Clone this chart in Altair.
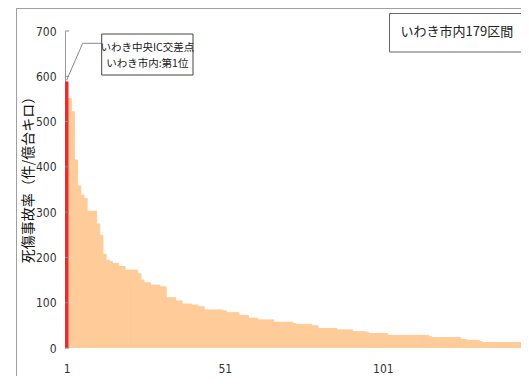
import altair as alt
import pandas as pd

# Death/injury accident rate per section (件/億台キロ), ranked; first 147 of 179 sections
rates = [
    588, 551, 522, 415, 358, 338, 330, 302, 302, 302,
    274, 249, 207, 194, 191, 187, 187, 180, 180, 172,
    172, 172, 172, 164, 150, 144, 144, 139, 139, 139,
    135, 135, 111, 111, 111, 104, 104, 97, 97, 97,
    95, 95, 91, 91, 84, 84, 84, 84, 84, 84,
    82, 78, 78, 78, 78, 72, 72, 72, 66, 66,
    66, 62, 62, 62, 62, 62, 57, 57, 57, 57,
    57, 57, 54, 52, 52, 52, 52, 52, 49, 49,
    43, 43, 43, 43, 43, 43, 40, 40, 40, 40,
    40, 36, 36, 36, 36, 35, 32, 32, 32, 32,
    32, 32, 28, 28, 28, 28, 28, 28, 28, 28,
    28, 28, 28, 28, 28, 25, 23, 23, 23, 23,
    23, 23, 23, 23, 23, 19, 19, 17, 17, 17,
    17, 14, 12, 12, 12, 12, 12, 12, 12, 12,
    12, 12, 12, 12, 12, 12, 12,
]
y_ticks = [0, 100, 200, 300, 400, 500, 600, 700]
x_ticks = [1, 51, 101]
x_visible_max = 144.66  # the view is cropped on the right, as in the original
y_title = "死傷事故率（件/億台キロ）"
anno_lines = ["いわき中央IC交差点", "いわき市内:第1位"]
legend_text = "いわき市内179区間"

NUM_FONT = "Liberation Sans Narrow, DejaVu Sans Condensed, Roboto Condensed, Liberation Sans"
JP_FONT = "Noto Sans CJK JP"
ORANGE = "#FFCC99"
RED = "#EE2B2B"

df = pd.DataFrame({"rank": list(range(1, len(rates) + 1)), "rate": rates})
ticks_df = pd.DataFrame({"tick": y_ticks})
one = pd.DataFrame({"a": [0]})

x_enc = alt.X(
    "lo:Q",
    scale=alt.Scale(domain=[0.5, x_visible_max], nice=False, zero=False),
    axis=alt.Axis(values=x_ticks, domain=False, ticks=False, grid=False,
                  labelPadding=15, labelFont=NUM_FONT, labelFontSize=12,
                  labelColor="#333", labelFlush=False, title=None),
)
y_axis = alt.Axis(values=y_ticks, tickSize=0, grid=False, domainColor="#999",
                  domainWidth=1, labelFont=NUM_FONT, labelFontSize=12,
                  labelColor="#333", labelPadding=9,
                  title=y_title, titleFont=JP_FONT, titleFontSize=14,
                  titleFontWeight="normal", titleColor="#111",
                  titleAngle=270, titleAlign="center", titleBaseline="middle",
                  titleX=-37, titleY=145)
y_enc = alt.Y("rate:Q", scale=alt.Scale(domain=[0, 700], nice=False), axis=y_axis)

base = alt.Chart(df).transform_calculate(
    lo="datum.rank - 0.5", hi="datum.rank + 0.5"
)
orange = base.transform_filter("datum.rank > 1").mark_rect(
    fill=ORANGE, stroke=ORANGE, strokeWidth=1, clip=True
).encode(x=x_enc, x2="hi:Q", y=y_enc, y2=alt.datum(0))
red = base.transform_filter("datum.rank == 1").mark_rect(
    fill=RED, stroke=RED, strokeWidth=0.6, clip=True
).encode(x=x_enc, x2="hi:Q", y=y_enc, y2=alt.datum(0))

tick_rules = alt.Chart(ticks_df).mark_rule(color="#8a8a8a", strokeWidth=1).encode(
    x=alt.value(0), x2=alt.value(4),
    y=alt.Y("tick:Q", scale=alt.Scale(domain=[0, 700], nice=False), axis=y_axis),
)

# outer frame (cropped chart border)
frame_left = alt.Chart(one).mark_rule(color="#a0a0a0", strokeWidth=1).encode(
    x=alt.value(-48.5), y=alt.value(-23), y2=alt.value(345)
)
frame_top = alt.Chart(one).mark_rule(color="#a0a0a0", strokeWidth=1).encode(
    x=alt.value(-48.5), x2=alt.value(470), y=alt.value(-22.5)
)

# annotation callout
lead1 = alt.Chart(one).mark_rule(color="#888", strokeWidth=1).encode(
    x=alt.value(1.7), y=alt.value(49), x2=alt.value(17.7), y2=alt.value(12.3)
)
lead2 = alt.Chart(one).mark_rule(color="#888", strokeWidth=1).encode(
    x=alt.value(17.7), y=alt.value(12.3), x2=alt.value(36.7), y2=alt.value(12.3)
)
anno_box = alt.Chart(one).mark_rect(fill="white", stroke="#444", strokeWidth=1).encode(
    x=alt.value(36.7), x2=alt.value(128), y=alt.value(3), y2=alt.value(44)
)
anno_t1 = alt.Chart(one).mark_text(font=JP_FONT, fontSize=10.5, color="#1a1a1a",
                                   baseline="middle", align="center").encode(
    x=alt.value(82.3), y=alt.value(16.5), text=alt.value(anno_lines[0])
)
anno_t2 = alt.Chart(one).mark_text(font=JP_FONT, fontSize=10.5, color="#1a1a1a",
                                   baseline="middle", align="center").encode(
    x=alt.value(82.3), y=alt.value(33), text=alt.value(anno_lines[1])
)

# label box (top right, cropped by the frame edge)
leg_box = alt.Chart(one).mark_rect(fill="white", stroke="#666", strokeWidth=1).encode(
    x=alt.value(324.5), x2=alt.value(480), y=alt.value(-17.5), y2=alt.value(21)
)
leg_text = alt.Chart(one).mark_text(font=JP_FONT, fontSize=13, color="#222",
                                    baseline="middle", align="left").encode(
    x=alt.value(335.5), y=alt.value(1), text=alt.value(legend_text)
)

chart = alt.layer(
    frame_left, frame_top, orange, red, tick_rules,
    lead1, lead2, anno_box, anno_t1, anno_t2, leg_box, leg_text,
).properties(
    width=456, height=317,
    autosize=alt.AutoSizeParams(type="none"),
    padding={"left": 57, "top": 23, "right": 0, "bottom": 28},
    background="white",
).configure_view(stroke=None)

chart.save("out.html", embed_options={"renderer": "svg", "actions": False})
